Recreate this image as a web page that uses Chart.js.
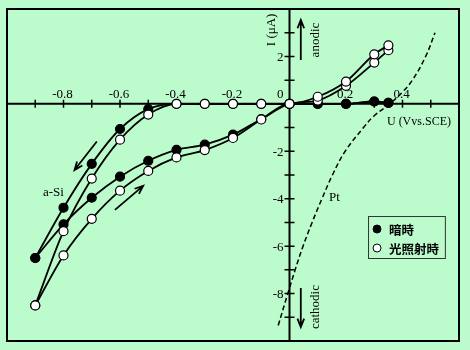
<!DOCTYPE html>
<html>
<head>
<meta charset="utf-8">
<script src="https://cdn.jsdelivr.net/npm/chart.js@4.4.0/dist/chart.umd.min.js"></script>
<style>
body { margin: 0; background: #bcfccc; }
#wrap { width: 470px; height: 350px; }
</style>
</head>
<body>
<div id="wrap"><canvas id="ivChart" width="470" height="350"></canvas></div>
<script>
// a-Si electrode, cathodic sweep (0.35 V -> -0.9 V) and anodic sweep back
const voltsDown = [0.35, 0.3, 0.2, 0.1, 0, -0.1, -0.2, -0.3, -0.4, -0.5, -0.6, -0.7, -0.8, -0.9];
const darkDown = [0.04, 0.1, 0, 0, 0, 0, 0, 0, 0, -0.22, -1.06, -2.53, -4.38, -6.5];
const lightDown = [2.47, 2.09, 0.94, 0.30, 0, 0, 0, 0, 0, -0.45, -1.51, -3.15, -5.37, -8.5];

const voltsUp = [-0.9, -0.8, -0.7, -0.6, -0.5, -0.4, -0.3, -0.2, -0.1, 0, 0.1, 0.2, 0.3, 0.35];
const darkUp = [-6.5, -5.08, -3.96, -3.07, -2.40, -1.94, -1.72, -1.30, -0.64, 0, 0, 0, 0.1, 0.04];
const lightUp = [-8.5, -6.39, -4.85, -3.66, -2.83, -2.26, -1.95, -1.44, -0.66, 0, 0.14, 0.76, 1.74, 2.26];

// Pt electrode (dashed)
const ptVolts = [-0.04, -0.006, 0.02, 0.048, 0.08, 0.115, 0.152, 0.197, 0.262, 0.3, 0.355, 0.40, 0.435, 0.482, 0.515];
const ptCurrent = [-9.35, -8, -7, -6, -5, -4, -3, -2, -1, -0.5, 0, 0.5, 1, 2, 3];

const xTickValues = [-0.9, -0.8, -0.7, -0.6, -0.5, -0.4, -0.3, -0.2, -0.1, 0.1, 0.2, 0.3, 0.4, 0.5];
const xLabelValues = [-0.8, -0.6, -0.4, -0.2, 0.2, 0.4];
const xLabelTexts = ['-0.8', '-0.6', '-0.4', '-0.2', '0.2', '0.4'];
const yTickValues = [-9, -8, -7, -6, -5, -4, -3, -2, -1, 1, 2, 3];
const yLabelValues = [2, -2, -4, -6, -8];
const yLabelTexts = ['2', '-2', '-4', '-6', '-8'];

const legendNames = ['暗時', '光照射時'];

const serif = "'Liberation Serif', 'DejaVu Serif', serif";
const cjk = "'Noto Sans CJK JP', 'Noto Sans CJK SC', sans-serif";

function pairs(xs, ys) {
    return xs.map((v, i) => ({ x: v, y: ys[i] }));
}

function curve(label, xs, ys, fill) {
    return {
        label: label,
        data: pairs(xs, ys),
        showLine: true,
        borderColor: '#000',
        borderWidth: 1.8,
        backgroundColor: fill,
        pointBackgroundColor: fill,
        pointBorderColor: '#000',
        pointBorderWidth: 1.2,
        pointRadius: 4.5,
        cubicInterpolationMode: 'monotone'
    };
}

function arrow(ctx, x1, y1, x2, y2) {
    const ang = Math.atan2(y2 - y1, x2 - x1);
    const h = 9, w = 0.38;
    ctx.beginPath();
    ctx.moveTo(x1, y1);
    ctx.lineTo(x2, y2);
    ctx.moveTo(x2 - h * Math.cos(ang - w), y2 - h * Math.sin(ang - w));
    ctx.lineTo(x2, y2);
    ctx.lineTo(x2 - h * Math.cos(ang + w), y2 - h * Math.sin(ang + w));
    ctx.stroke();
}

const crossAxes = {
    id: 'crossAxes',
    beforeDatasetsDraw(chart) {
        const { ctx, chartArea: a, scales: { x, y } } = chart;
        const x0 = x.getPixelForValue(0);
        const y0 = y.getPixelForValue(0);
        ctx.save();
        ctx.strokeStyle = '#000';
        ctx.lineWidth = 2;
        ctx.beginPath();
        ctx.moveTo(a.left, y0); ctx.lineTo(a.right, y0);
        ctx.moveTo(x0, a.top); ctx.lineTo(x0, a.bottom);
        ctx.stroke();

        ctx.lineWidth = 1.5;
        ctx.beginPath();
        xTickValues.forEach(v => {
            const p = x.getPixelForValue(v);
            ctx.moveTo(p, y0 - 4); ctx.lineTo(p, y0 + 4);
        });
        yTickValues.forEach(v => {
            const p = y.getPixelForValue(v);
            ctx.moveTo(x0 - 5, p); ctx.lineTo(x0 + 5, p);
        });
        ctx.stroke();

        ctx.fillStyle = '#000';
        ctx.font = '13px ' + serif;
        ctx.textAlign = 'center';
        ctx.textBaseline = 'alphabetic';
        xLabelValues.forEach((v, i) => {
            ctx.fillText(xLabelTexts[i], x.getPixelForValue(v) - 1, y0 - 6);
        });
        ctx.textAlign = 'right';
        ctx.fillText('0', x0 - 6, y0 - 6);
        ctx.textBaseline = 'middle';
        yLabelValues.forEach((v, i) => {
            ctx.fillText(yLabelTexts[i], x0 - 6, y.getPixelForValue(v) + 1);
        });
        ctx.restore();
    },
    afterDraw(chart) {
        const { ctx, chartArea: a, scales: { x, y } } = chart;
        const px = v => x.getPixelForValue(v);
        const py = v => y.getPixelForValue(v);
        ctx.save();
        ctx.strokeStyle = '#000';
        ctx.fillStyle = '#000';
        ctx.lineWidth = 2;
        ctx.strokeRect(a.left, a.top, a.right - a.left, a.bottom - a.top);

        // sweep direction and current direction arrows
        ctx.lineWidth = 1.8;
        arrow(ctx, px(-0.682), py(-1.59), px(-0.761), py(-2.79));
        arrow(ctx, px(-0.618), py(-4.47), px(-0.518), py(-3.46));
        arrow(ctx, px(0.04), py(1.85), px(0.04), py(3.54));
        arrow(ctx, px(0.04), py(-7.76), px(0.04), py(-9.41));

        ctx.font = '13px ' + serif;
        ctx.textBaseline = 'alphabetic';
        ctx.textAlign = 'left';
        ctx.fillText('a-Si', px(-0.873), py(-3.88));
        ctx.fillText('Pt', px(0.14), py(-4.10));
        ctx.font = '12px ' + serif;
        ctx.fillText('U (Vvs.SCE)', px(0.345), py(-0.89));
        ctx.font = '13px ' + serif;

        const vertical = (text, cx, cy) => {
            ctx.save();
            ctx.translate(cx, cy);
            ctx.rotate(-Math.PI / 2);
            ctx.textAlign = 'center';
            ctx.textBaseline = 'middle';
            ctx.fillText(text, 0, 0);
            ctx.restore();
        };
        vertical('I (μA)', px(-0.062), py(3.12));
        vertical('anodic', px(0.094), py(2.69));
        vertical('cathodic', px(0.094), py(-8.57));

        // legend box
        const lx1 = px(0.278), ly1 = py(-4.73), lx2 = px(0.55), ly2 = py(-6.5);
        ctx.lineWidth = 1;
        ctx.strokeStyle = '#333';
        ctx.strokeRect(lx1 + 0.5, ly1 + 0.5, lx2 - lx1, ly2 - ly1);
        const rowY = [ly1 + 13, ly1 + 32];
        const fills = ['#000', '#fff'];
        ctx.font = 'bold 12.5px ' + cjk;
        ctx.textBaseline = 'middle';
        legendNames.forEach((name, i) => {
            ctx.beginPath();
            ctx.arc(lx1 + 9, rowY[i], 4, 0, Math.PI * 2);
            ctx.fillStyle = fills[i];
            ctx.fill();
            ctx.strokeStyle = '#000';
            ctx.lineWidth = 1;
            ctx.stroke();
            ctx.fillStyle = '#000';
            ctx.fillText(name, lx1 + 21, rowY[i] + 1);
        });
        ctx.restore();
    }
};

const ctx = document.getElementById('ivChart').getContext('2d');
const ivChart = new Chart(ctx, {
    type: 'scatter',
    data: {
        datasets: [
            curve('光照射時', voltsDown, lightDown, '#fff'),
            curve('光照射時 up', voltsUp, lightUp, '#fff'),
            curve('暗時', voltsDown, darkDown, '#000'),
            curve('暗時 up', voltsUp, darkUp, '#000'),
            {
                label: 'Pt',
                data: pairs(ptVolts, ptCurrent),
                showLine: true,
                borderColor: '#000',
                borderWidth: 1.5,
                borderDash: [5, 3],
                pointRadius: 0,
                tension: 0.4
            }
        ]
    },
    options: {
        responsive: false,
        animation: false,
        events: [],
        layout: { padding: { left: 7, top: 9, right: 11, bottom: 9 } },
        scales: {
            x: { type: 'linear', min: -1.0, max: 0.6, display: false },
            y: { type: 'linear', min: -10, max: 4, display: false }
        },
        plugins: {
            legend: { display: false },
            tooltip: { enabled: false }
        }
    },
    plugins: [crossAxes]
});
</script>
</body>
</html>
